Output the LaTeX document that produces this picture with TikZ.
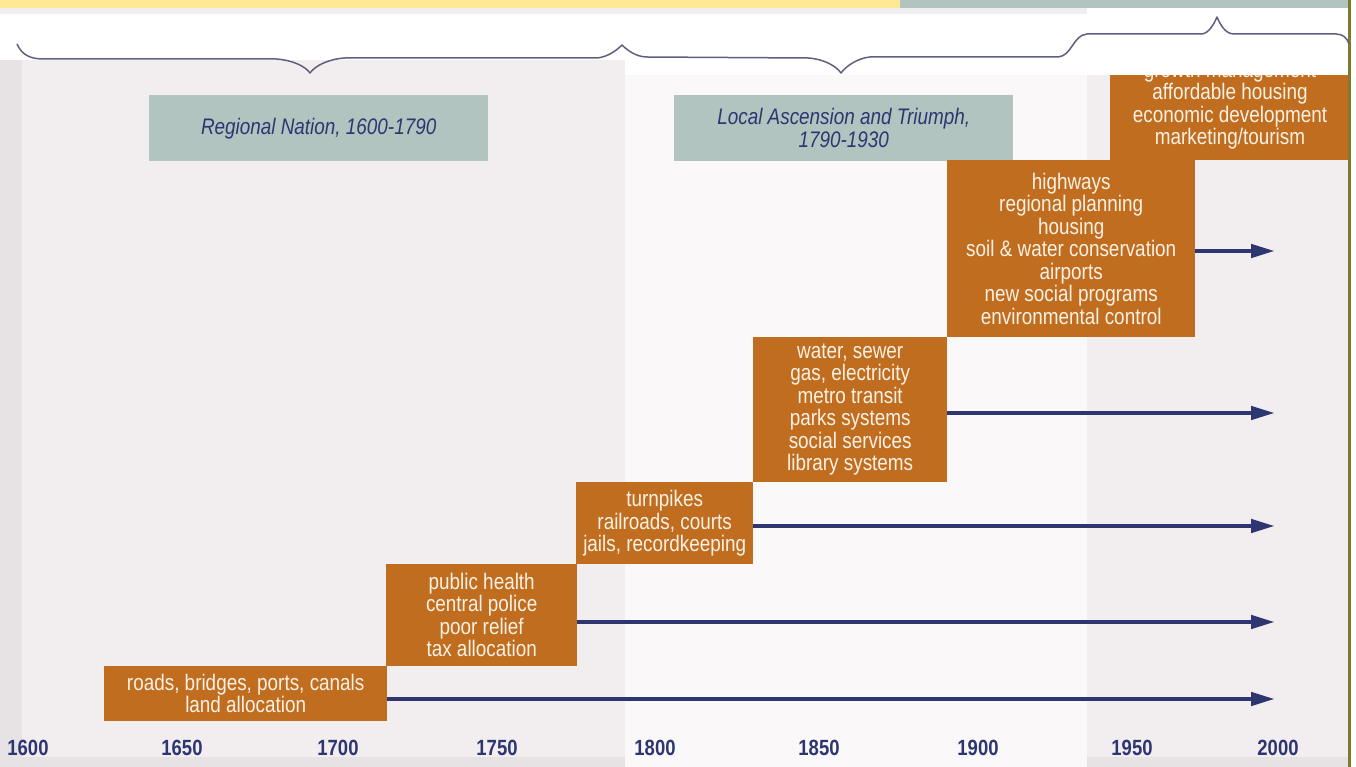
\documentclass[tikz,border=0pt]{standalone}
\usepackage{fontspec}
\usetikzlibrary{arrows.meta}
\newfontfamily\chartfont[FakeStretch=0.84]{Liberation Sans}
\definecolor{ochre}{HTML}{C06D20}
\definecolor{cream}{HTML}{FBF1E4}
\definecolor{slate}{HTML}{B2C4BF}
\definecolor{navy}{HTML}{2E3672}
\definecolor{butter}{HTML}{FFE994}
\definecolor{bracegray}{HTML}{5F6080}
\definecolor{paneltint}{HTML}{F2EDEF}
\definecolor{midtint}{HTML}{FAF8F9}
\definecolor{striptint}{HTML}{E7E3E5}
\definecolor{edgeolive}{HTML}{7D7A2C}
\begin{document}
\begin{tikzpicture}[x=1pt,y=-1pt,
  task/.style={fill=ochre,text=cream,align=center,inner sep=0pt,anchor=north west,
    font=\chartfont\fontsize{22.5}{22.5}\selectfont},
  era/.style={fill=slate,text=navy,align=center,inner sep=0pt,anchor=north west,
    minimum width=339pt,minimum height=66pt,
    font=\chartfont\itshape\fontsize{22.5}{22.5}\selectfont},
  year/.style={text=navy,font=\chartfont\bfseries\fontsize{22}{22}\selectfont},
  reach/.style={draw=navy,line width=4.5pt,-{Triangle[length=24pt,width=13pt]}},
  brace/.style={draw=bracegray,line width=1.5pt,line join=round}]

\useasboundingbox (0,0) rectangle (1356,767);

% background panels
\fill[white] (0,0) rectangle (1356,767);
\fill[paneltint] (0,8) rectangle (1087,14);
\fill[paneltint] (22,60) rectangle (625,757);
\fill[midtint] (625,75) rectangle (1087,767);
\fill[paneltint] (1087,75) rectangle (1349,757);
\fill[striptint] (0,60) rectangle (22,767);
\fill[striptint] (22,757) rectangle (625,767);
\fill[striptint] (1087,757) rectangle (1349,767);
\fill[butter] (0,0) rectangle (900,8);
\fill[slate] (900,0) rectangle (1349,8);
\fill[edgeolive] (1348,0) rectangle (1351,767);

% braces over the periods
\draw[brace] (17,44) .. controls (22,55) and (30,59) .. (44,59) -- (276,59)
  .. controls (292,60) and (305,66) .. (310,73) .. controls (315,66) and (328,59) .. (345,58)
  -- (597,58) .. controls (608,57) and (617,50) .. (622,45)
  .. controls (627,50) and (636,57) .. (647,57) -- (808,58)
  .. controls (824,59) and (836,66) .. (841,73) .. controls (846,66) and (858,58) .. (870,57)
  -- (1058,57) .. controls (1072,56) and (1073,35) .. (1087,34) -- (1202,34)
  .. controls (1209,33) and (1214,24) .. (1217,17) .. controls (1220,24) and (1225,34) .. (1234,34)
  -- (1336,34) .. controls (1343,34) and (1347,38) .. (1349,44);

% eras
\node[era] (regional) at (149,95) {Regional Nation, 1600-1790};
\node[era] (local) at (674,95) {Local Ascension and Triumph,\\1790-1930};

% functions
\node[task,minimum width=283pt,minimum height=55pt] (roads) at (104,666)
  {roads, bridges, ports, canals\\land allocation};
\node[task,minimum width=191pt,minimum height=102pt] (health) at (386,564)
  {public health\\central police\\poor relief\\tax allocation};
\node[task,minimum width=177pt,minimum height=82pt] (pikes) at (576,482)
  {turnpikes\\railroads, courts\\jails, recordkeeping};
\node[task,minimum width=194pt,minimum height=145pt] (water) at (753,337)
  {water, sewer\\gas, electricity\\metro transit\\parks systems\\social services\\library systems};
\node[task,minimum width=248pt,minimum height=177pt] (highways) at (947,160)
  {highways\\regional planning\\housing\\soil \& water conservation\\airports\\new social programs\\environmental control};
\begin{scope}
\clip (1110,76) rectangle (1348,160);
\node[task,anchor=center,minimum width=240pt,minimum height=130pt] (growth) at (1230,105.3)
  {growth management\\affordable housing\\economic development\\marketing/tourism};
\end{scope}

% time axis
\foreach \x/\yr in {28/1600, 182/1650, 338/1700, 497/1750, 655/1800,
                    819/1850, 978/1900, 1132/1950, 1278/2000}
\node[year] (y\yr) at (\x,748) {\yr};

% reach to 2000
\coordinate (end1) at (1275,699);
\coordinate (end2) at (1275,622);
\coordinate (end3) at (1275,526);
\coordinate (end4) at (1275,413);
\coordinate (end5) at (1275,251);
\draw[reach] (roads.east |- end1) -- (end1);
\draw[reach] (health.east |- end2) -- (end2);
\draw[reach] (pikes.east |- end3) -- (end3);
\draw[reach] (water.east |- end4) -- (end4);
\draw[reach] (highways.east |- end5) -- (end5);
\end{tikzpicture}
\end{document}
